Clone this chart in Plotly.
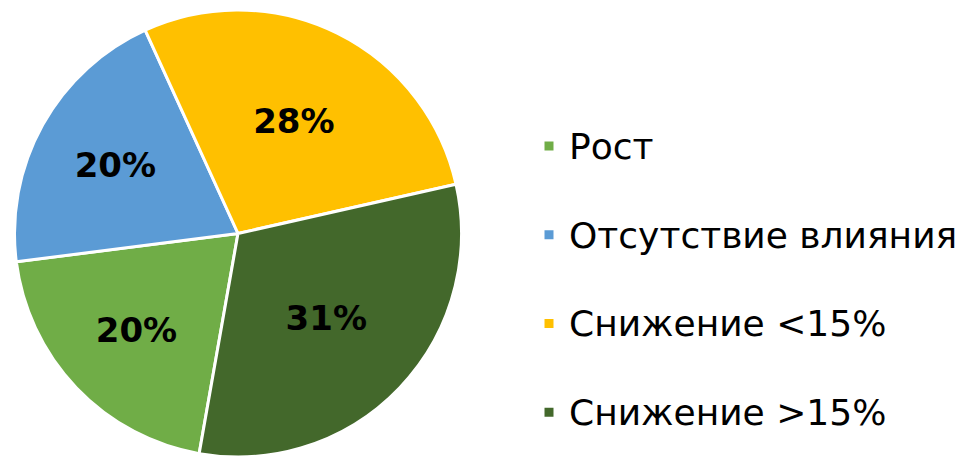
import plotly.graph_objects as go

categories = ["Рост", "Отсутствие влияния", "Снижение <15%", "Снижение >15%"]
values = [20, 20, 28, 31]
colors = ["#70AD47", "#5B9BD5", "#FFC000", "#43682B"]

# legend entries: bigger visible text, plus a spacer line (not after the last one)
legend_labels = [
    "<span style='font-size:36px'>" + c + "</span>" + ("<br> " if i < len(categories) - 1 else "")
    for i, c in enumerate(categories)
]

fig = go.Figure(go.Pie(
    labels=legend_labels,
    values=values,
    sort=False,
    direction="clockwise",
    rotation=190,
    marker=dict(colors=colors, line=dict(color="white", width=3)),
    texttemplate="%{percent:.0%}",
    textposition="inside",
    insidetextorientation="horizontal",
    textfont=dict(family="DejaVu Sans", size=34, color="black", weight="bold"),
    domain=dict(x=[(238 - 223.5) / 966, (238 + 223.5) / 966], y=[0, 1]),
    hoverinfo="skip",
))

fig.update_layout(
    width=966, height=457,
    margin=dict(l=0, r=0, t=10, b=0),
    paper_bgcolor="white",
    showlegend=True,
    legend=dict(
        x=529 / 966, xanchor="left",
        y=1 - (118 - 10) / 447, yanchor="top",
        valign="top",
        font=dict(family="DejaVu Sans", size=33, color="black"),
        bgcolor="rgba(0,0,0,0)",
    ),
)

fig.write_html(
    "out.html",
    config={"displayModeBar": False},
    post_script="document.body.style.margin='0';document.body.style.overflow='hidden';",
)
